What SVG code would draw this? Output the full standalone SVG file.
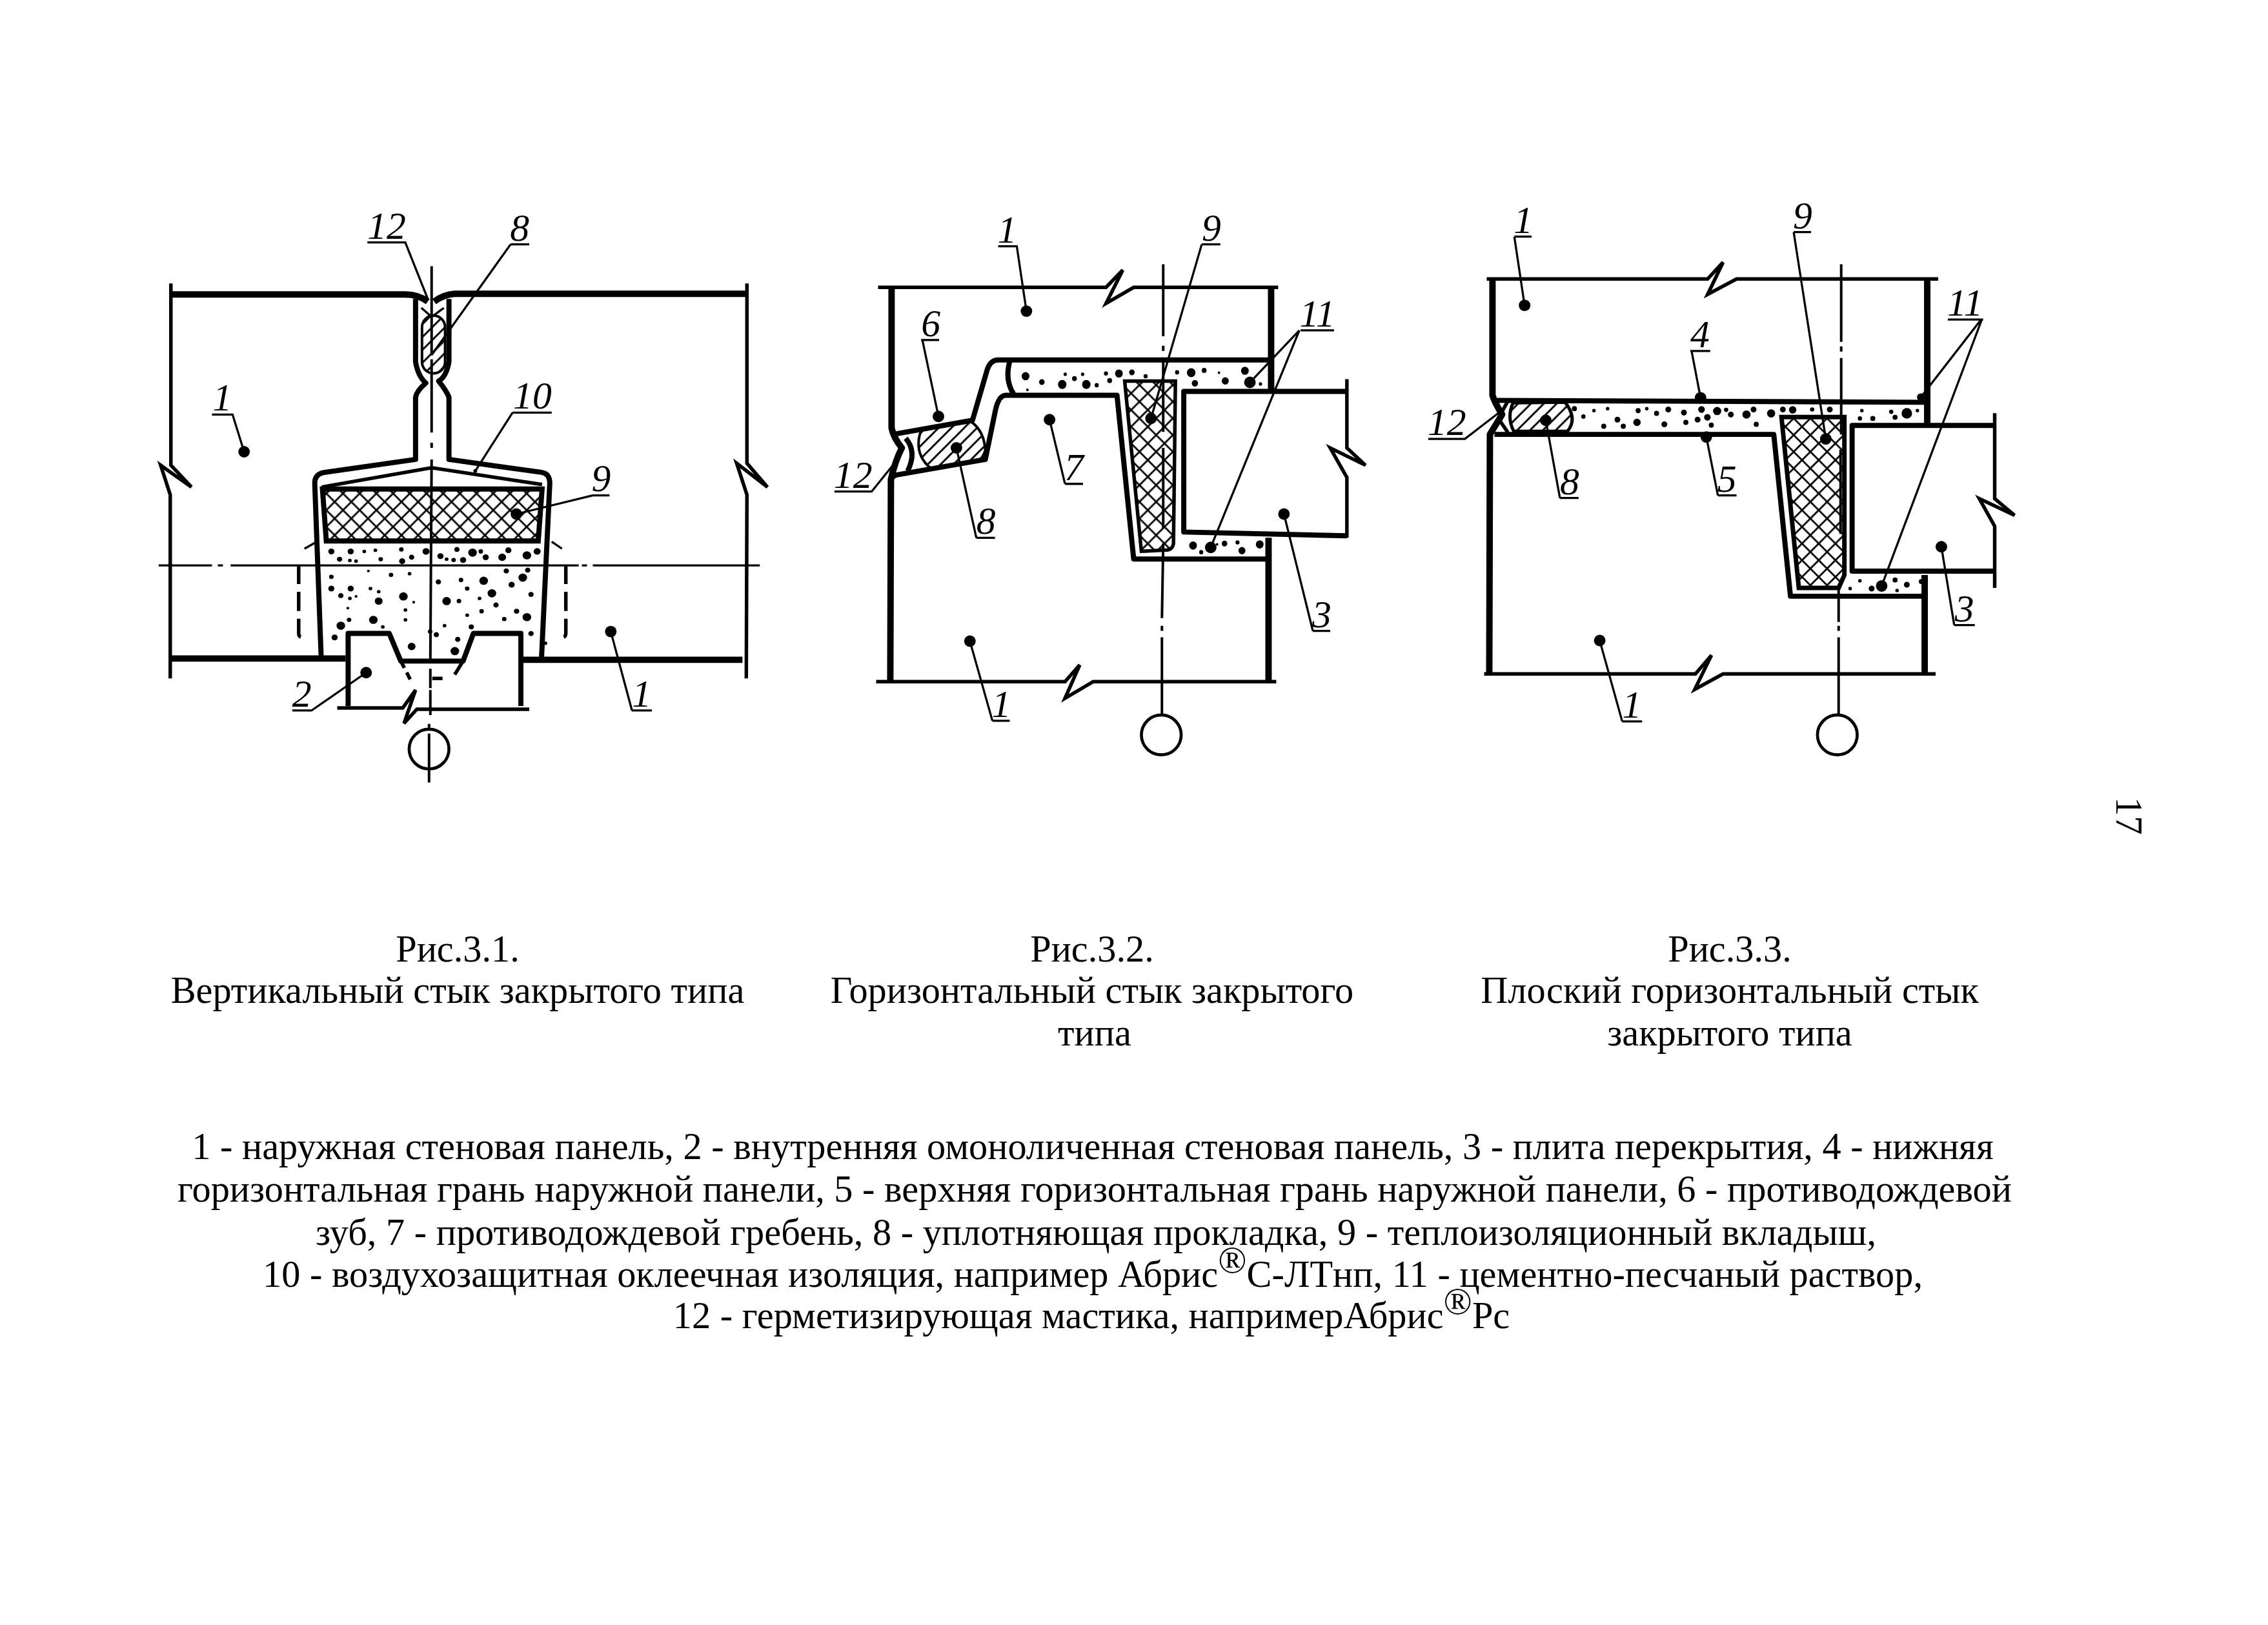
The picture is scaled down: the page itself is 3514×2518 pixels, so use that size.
<svg xmlns="http://www.w3.org/2000/svg" width="3514" height="2518" viewBox="0 0 3514 2518">
<style>
.w{fill:none;stroke:#000;stroke-width:10;stroke-linejoin:round}
.h{fill:none;stroke:#000;stroke-width:8;stroke-linejoin:round}
.m{fill:none;stroke:#000;stroke-width:5.5;stroke-linejoin:miter}
.a{fill:none;stroke:#000;stroke-width:4}
.t{fill:none;stroke:#000;stroke-width:3.3}
.d{fill:#000;stroke:none}
.dots{fill:#000;stroke:#000;stroke-width:3}
.lb{font-family:"Liberation Serif","Times New Roman",serif;font-style:italic;font-size:60px;text-anchor:middle;fill:#000}
.c{font-family:"Liberation Serif","Times New Roman",serif;font-size:58.33px;text-anchor:middle;fill:#000}
</style>
<defs>
<pattern id="cross" width="26" height="26" patternUnits="userSpaceOnUse"><path d="M0 0L26 26M26 0L0 26" stroke="#000" stroke-width="2.8" fill="none"/></pattern>
<pattern id="hatch" width="20" height="20" patternUnits="userSpaceOnUse"><path d="M-3 23L23 -3M-3 3L3 -3M17 23L23 17" stroke="#000" stroke-width="3" fill="none"/></pattern>
</defs>
<rect width="3514" height="2518" fill="#fff"/>

<g id="fig1" transform="matrix(.995 0 0 .995 1.1 1.5)">
<path class="m" d="M265 440V723L297 757L249 723L264 769V1055"/>
<path class="m" d="M1162 440V720L1194 757L1146 720L1162 769L1161 1055"/>
<path class="w" d="M266 457H630Q650 457 665 468"/>
<path class="w" d="M675 468Q690 457 707 456H1162"/>
<path class="h" d="M646 464V562Q650 585 662 595Q648 607 646 617V714L505 734Q489 736 489 751L499 1022"/>
<path class="h" d="M698 464V562Q694 585 682 592Q694 607 698 617V714L842 734Q855 736 855 751L842 1026"/>
<path class="w" d="M265 1024H537M813 1026H1155"/>
<path class="t" d="M655 478L671 492L690 478"/>
<rect x="656" y="490" width="36" height="90" rx="18" fill="url(#hatch)" stroke="#000" stroke-width="4"/>
<path class="m" d="M500 757L671 727L843 753"/>
<path d="M501 760H843L837 841H507Z" fill="url(#cross)" stroke="#000" stroke-width="8"/>
<path class="t" d="M473 853L489 844M874 853L858 842"/>
<path class="m" stroke-dasharray="30 12" d="M464 878V985Q464 991 470 991M880 878V985Q880 991 874 991"/>
<path class="t" d="M246 879H329M338 879H346M358 879H900M905 879H913M922 879H1182"/>
<path class="a" d="M671 413V552M671 558V672M671 688V696M671 714L669 1027M669 1040V1070M669 1073V1112M667 1126V1132M667 1141V1217"/>
<path class="h" d="M541 1098V985H605L623 1028H720L736 985H810V1098"/>
<path class="m" d="M524 1101H626L646 1073L628 1125L648 1103H823"/>
<path class="m" stroke-dasharray="12 8" d="M623 1028L640 1061"/>
<path class="m" d="M720 1028L707 1049M672 1055H688"/>
<circle cx="667" cy="1165" r="31" fill="none" stroke="#000" stroke-width="4.7"/>
<g transform="translate(220 300) scale(.641 .609)" class="dots">
<circle cx="460" cy="915" r="6"/><circle cx="507" cy="915" r="6"/><circle cx="480" cy="935" r="5"/><circle cx="505" cy="938" r="3"/><circle cx="520" cy="940" r="3"/><circle cx="540" cy="915" r="3"/><circle cx="567" cy="912" r="3"/><circle cx="580" cy="935" r="4"/><circle cx="630" cy="910" r="4"/><circle cx="632" cy="940" r="6"/><circle cx="655" cy="930" r="5"/><circle cx="690" cy="915" r="7"/><circle cx="725" cy="927" r="6"/><circle cx="740" cy="935" r="3"/><circle cx="757" cy="937" r="4"/><circle cx="765" cy="910" r="5"/><circle cx="780" cy="937" r="6"/><circle cx="803" cy="918" r="9"/><circle cx="823" cy="915" r="4"/><circle cx="835" cy="930" r="6"/><circle cx="875" cy="930" r="8"/><circle cx="890" cy="912" r="6"/><circle cx="935" cy="925" r="9"/><circle cx="960" cy="915" r="7"/><circle cx="550" cy="965" r="2"/><circle cx="605" cy="975" r="4"/><circle cx="650" cy="972" r="3"/><circle cx="885" cy="965" r="5"/><circle cx="937" cy="963" r="5"/><circle cx="925" cy="982" r="9"/><circle cx="830" cy="990" r="9"/><circle cx="775" cy="988" r="4"/><circle cx="720" cy="993" r="5"/><circle cx="898" cy="1000" r="6"/><circle cx="460" cy="980" r="4"/><circle cx="460" cy="1010" r="6"/><circle cx="507" cy="1010" r="6"/><circle cx="555" cy="1010" r="3"/><circle cx="635" cy="1030" r="9"/><circle cx="575" cy="1042" r="8"/><circle cx="575" cy="1018" r="3"/><circle cx="483" cy="1028" r="5"/><circle cx="505" cy="1035" r="3"/><circle cx="520" cy="1030" r="2"/><circle cx="850" cy="1022" r="9"/><circle cx="790" cy="1010" r="4"/><circle cx="740" cy="1042" r="9"/><circle cx="770" cy="1042" r="4"/><circle cx="820" cy="1035" r="3"/><circle cx="945" cy="1025" r="5"/><circle cx="860" cy="1052" r="5"/><circle cx="500" cy="1060" r="2"/><circle cx="640" cy="1065" r="3"/><circle cx="660" cy="1045" r="2"/><circle cx="910" cy="1068" r="5"/><circle cx="825" cy="1068" r="4"/><circle cx="935" cy="1083" r="9"/><circle cx="880" cy="1088" r="4"/><circle cx="790" cy="1078" r="3"/><circle cx="503" cy="1090" r="4"/><circle cx="483" cy="1105" r="9"/><circle cx="562" cy="1090" r="9"/><circle cx="640" cy="1090" r="3"/><circle cx="585" cy="1108" r="3"/><circle cx="735" cy="1105" r="3"/><circle cx="800" cy="1108" r="5"/><circle cx="700" cy="1120" r="4"/><circle cx="715" cy="1128" r="5"/><circle cx="655" cy="1158" r="8"/><circle cx="767" cy="1140" r="5"/><circle cx="760" cy="1170" r="9"/><circle cx="468" cy="1135" r="6"/><circle cx="945" cy="1125" r="5"/><circle cx="980" cy="1150" r="3"/>
</g>
</g>

<g id="fig2" transform="matrix(.995 0 0 .995 6.3 1.5)">
<path class="m" d="M1361 446H1716L1742 419L1716 471L1759 446H1984"/>
<path class="w" d="M1382 446V665Q1385 680 1398 696Q1388 715 1381 745L1380 1061"/>
<path class="h" d="M1384 675L1508 653L1531 574Q1536 559 1548 559H1970"/>
<path class="h" d="M1381 745Q1383 740 1390 738L1528 714L1543 641Q1548 614 1560 614H1733L1759 869H1970"/>
<path class="w" d="M1973 446V608M1969 836V1061"/>
<path class="m" d="M1358 1060H1652L1675 1034L1652 1086L1696 1060H1981"/>
<path class="h" d="M2091 608H1837V827L2091 833"/>
<path class="m" d="M2091 589V696L2120 723L2065 696L2091 742V836"/>
<path d="M1745 592H1824L1821 845Q1820 854 1811 855L1771 857Z" fill="url(#cross)" stroke="#000" stroke-width="5.5"/>
<path d="M1430 667L1504 654Q1526 668 1528 700Q1524 712 1517 716L1443 728Q1424 712 1424 690Q1424 675 1430 667Z" fill="url(#hatch)" stroke="#000" stroke-width="4"/>
<path class="h" d="M1404 681Q1422 702 1407 732"/>
<path class="h" d="M1566 561Q1558 590 1572 612"/>
<path class="a" d="M1805 410V522M1805 537V545M1805 556V671M1805 696V821M1805 845L1803 961M1803 973V981M1803 991V1110"/>
<circle cx="1802" cy="1143" r="31" fill="none" stroke="#000" stroke-width="4.7"/>
<g transform="translate(1260 300) scale(.577 .609)" class="dots">
<circle cx="573" cy="467" r="9"/><circle cx="617" cy="482" r="6"/><circle cx="672" cy="488" r="10"/><circle cx="705" cy="473" r="5"/><circle cx="737" cy="488" r="10"/><circle cx="680" cy="462" r="3"/><circle cx="727" cy="462" r="3"/><circle cx="765" cy="490" r="4"/><circle cx="800" cy="478" r="5"/><circle cx="790" cy="460" r="4"/><circle cx="825" cy="460" r="9"/><circle cx="860" cy="457" r="6"/><circle cx="897" cy="467" r="4"/><circle cx="982" cy="457" r="4"/><circle cx="1020" cy="458" r="10"/><circle cx="1055" cy="452" r="5"/><circle cx="1030" cy="485" r="7"/><circle cx="1112" cy="479" r="8"/><circle cx="1165" cy="453" r="9"/><circle cx="1207" cy="487" r="3"/><circle cx="1095" cy="458" r="2"/><circle cx="1025" cy="900" r="9"/><circle cx="1047" cy="917" r="4"/><circle cx="1110" cy="895" r="6"/><circle cx="1145" cy="892" r="4"/><circle cx="1157" cy="913" r="8"/><circle cx="1205" cy="897" r="9"/><circle cx="1090" cy="897" r="2"/><circle cx="578" cy="502" r="2"/>
</g>
</g>

<g id="fig3" transform="matrix(.995 0 0 .995 11 1.5)">
<path class="m" d="M2304 433H2648L2672 407L2648 457L2693 433H3007"/>
<path class="w" d="M2313 435V614Q2316 625 2328 644Q2318 660 2309 675L2308 1048"/>
<path class="h" d="M2316 622L2989 625"/>
<path class="h" d="M2316 675H2751L2777 927H2983"/>
<path class="w" d="M2990 435V659M2986 894V1048"/>
<path class="m" d="M2300 1048H2629L2654 1019L2628 1072L2672 1048H3003"/>
<path class="h" d="M3095 661H2873V888H3095"/>
<path class="m" d="M3095 642V775L3126 801L3071 775L3095 818V914"/>
<path d="M2763 648H2861V894L2852 914H2790Z" fill="url(#cross)" stroke="#000" stroke-width="7"/>
<path d="M2345 626Q2335 648 2346 670H2430Q2446 650 2426 625Z" fill="url(#hatch)" stroke="#000" stroke-width="5"/>
<path class="m" d="M2337 623L2322 650L2337 672"/>
<path class="a" d="M2856 410V531M2856 538V546M2856 556V675M2855 699V830M2852 915V967M2852 973V981M2852 991V1110"/>
<circle cx="2850" cy="1143" r="31" fill="none" stroke="#000" stroke-width="4.7"/>
<g transform="translate(2200 300) scale(.609)" class="dots">
<circle cx="395" cy="550" r="5"/><circle cx="418" cy="570" r="4"/><circle cx="445" cy="555" r="3"/><circle cx="470" cy="595" r="5"/><circle cx="480" cy="550" r="3"/><circle cx="505" cy="578" r="6"/><circle cx="520" cy="595" r="5"/><circle cx="555" cy="585" r="8"/><circle cx="558" cy="555" r="5"/><circle cx="580" cy="550" r="3"/><circle cx="605" cy="562" r="5"/><circle cx="635" cy="552" r="6"/><circle cx="625" cy="590" r="6"/><circle cx="675" cy="560" r="6"/><circle cx="680" cy="585" r="5"/><circle cx="710" cy="578" r="6"/><circle cx="720" cy="552" r="7"/><circle cx="735" cy="572" r="7"/><circle cx="745" cy="592" r="5"/><circle cx="760" cy="556" r="9"/><circle cx="783" cy="553" r="4"/><circle cx="795" cy="565" r="6"/><circle cx="835" cy="565" r="9"/><circle cx="853" cy="552" r="6"/><circle cx="860" cy="590" r="5"/><circle cx="898" cy="562" r="9"/><circle cx="928" cy="552" r="6"/><circle cx="953" cy="553" r="8"/><circle cx="1003" cy="552" r="4"/><circle cx="1048" cy="552" r="6"/><circle cx="1130" cy="555" r="3"/><circle cx="1125" cy="575" r="4"/><circle cx="1158" cy="575" r="5"/><circle cx="1205" cy="558" r="4"/><circle cx="1215" cy="572" r="5"/><circle cx="1245" cy="562" r="12"/><circle cx="1272" cy="555" r="3"/><circle cx="1100" cy="1010" r="3"/><circle cx="1125" cy="990" r="3"/><circle cx="1155" cy="1010" r="6"/><circle cx="1215" cy="988" r="5"/><circle cx="1245" cy="1000" r="6"/><circle cx="1282" cy="992" r="5"/><circle cx="1220" cy="1015" r="3"/>
</g>
</g>

<g id="connectors" class="t">
<path transform="matrix(.995 0 0 .995 1.1 1.5)" d="M571 376H630L665 464M794 379H823M794 379L672 550M329 644H361L379 702M797 641H858M797 641L739 732M922 770H948M922 770L803 799M454 1105H484L569 1046M983 1105H1014M983 1105L950 982"/>
<path transform="matrix(.995 0 0 .995 6.3 1.5)" d="M1548 382H1577L1592 483M1428 528H1456M1430 528L1455 647M1293 764H1351L1396 708M1514 836H1543M1514 836L1483 696M1652 752H1680M1652 752L1628 652M1865 379H1894M1865 379L1786 650M2019 513H2071M2017 513L1940 594M2017 513L1879 851M2038 981H2065M2038 981L1993 799M1539 1121H1566M1539 1121L1504 997"/>
<path transform="matrix(.995 0 0 .995 11 1.5)" d="M2347 367H2374M2347 367L2363 474M2782 360H2809M2782 360L2832 682M2621 545H2652M2623 545L2637 618M2213 682H2270L2322 642M2418 774H2447M2418 774L2396 653M2664 770H2693M2664 770L2646 679M3022 496H3077M3074 496L2980 617M3075 496L2919 911M3032 972H3064M3032 972L3012 850M2515 1122H2546M2515 1122L2480 996"/>
</g>

<g id="labels-fig1" transform="matrix(.995 0 0 .995 1.1 1.5)">
<g id="f1-12"><text class="lb" x="601" y="370">12</text></g>
<g id="f1-8"><text class="lb" x="808" y="373">8</text></g>
<g id="f1-1a"><circle class="d" cx="379" cy="702" r="9"/><text class="lb" x="345" y="638">1</text></g>
<g id="f1-10"><circle class="d" cx="739" cy="732" r="3"/><text class="lb" x="828" y="635">10</text></g>
<g id="f1-9"><circle class="d" cx="803" cy="799" r="9"/><text class="lb" x="935" y="763">9</text></g>
<g id="f1-2"><circle class="d" cx="569" cy="1046" r="9"/><text class="lb" x="469" y="1099">2</text></g>
<g id="f1-1b"><circle class="d" cx="950" cy="982" r="9"/><text class="lb" x="998" y="1099">1</text></g>
</g>
<g id="labels-fig2" transform="matrix(.995 0 0 .995 6.3 1.5)">
<g id="f2-1a"><circle class="d" cx="1592" cy="483" r="9"/><text class="lb" x="1562" y="376">1</text></g>
<g id="f2-6"><circle class="d" cx="1455" cy="647" r="9"/><text class="lb" x="1443" y="522">6</text></g>
<g id="f2-12"><text class="lb" x="1322" y="758">12</text></g>
<g id="f2-8"><circle class="d" cx="1483" cy="696" r="9"/><text class="lb" x="1529" y="830">8</text></g>
<g id="f2-7"><circle class="d" cx="1628" cy="652" r="9"/><text class="lb" x="1666" y="746">7</text></g>
<g id="f2-9"><circle class="d" cx="1786" cy="650" r="9"/><text class="lb" x="1880" y="373">9</text></g>
<g id="f2-11"><circle class="d" cx="1940" cy="594" r="9"/><circle class="d" cx="1879" cy="851" r="9"/><text class="lb" x="2045" y="507">11</text></g>
<g id="f2-3"><circle class="d" cx="1993" cy="799" r="9"/><text class="lb" x="2052" y="975">3</text></g>
<g id="f2-1b"><circle class="d" cx="1504" cy="997" r="9"/><text class="lb" x="1553" y="1115">1</text></g>
</g>
<g id="labels-fig3" transform="matrix(.995 0 0 .995 11 1.5)">
<g id="f3-1a"><circle class="d" cx="2363" cy="474" r="9"/><text class="lb" x="2361" y="361">1</text></g>
<g id="f3-9"><circle class="d" cx="2832" cy="682" r="9"/><text class="lb" x="2796" y="354">9</text></g>
<g id="f3-4"><circle class="d" cx="2637" cy="618" r="9"/><text class="lb" x="2636" y="539">4</text></g>
<g id="f3-12"><text class="lb" x="2242" y="676">12</text></g>
<g id="f3-8"><circle class="d" cx="2396" cy="653" r="9"/><text class="lb" x="2433" y="768">8</text></g>
<g id="f3-5"><circle class="d" cx="2646" cy="679" r="9"/><text class="lb" x="2678" y="764">5</text></g>
<g id="f3-11"><circle class="d" cx="2980" cy="617" r="6"/><circle class="d" cx="2919" cy="911" r="9"/><text class="lb" x="3049" y="490">11</text></g>
<g id="f3-3"><circle class="d" cx="3012" cy="850" r="9"/><text class="lb" x="3048" y="966">3</text></g>
<g id="f3-1b"><circle class="d" cx="2480" cy="996" r="9"/><text class="lb" x="2530" y="1116">1</text></g>
</g>

<g id="captions">
<text class="c" x="709" y="1490">Рис.3.1.</text>
<text class="c" x="709" y="1554">Вертикальный стык закрытого типа</text>
<text class="c" x="1692" y="1490">Рис.3.2.</text>
<text class="c" x="1692" y="1554">Горизонтальный стык закрытого</text>
<text class="c" x="1696" y="1620">типа</text>
<text class="c" x="2680" y="1490">Рис.3.3.</text>
<text class="c" x="2680" y="1554">Плоский горизонтальный стык</text>
<text class="c" x="2680" y="1620">закрытого типа</text>
</g>
<g id="legend">
<text class="c" x="1693" y="1796">1 - наружная стеновая панель, 2 - внутренняя омоноличенная стеновая панель, 3 - плита перекрытия, 4 - нижняя</text>
<text class="c" x="1696" y="1862">горизонтальная грань наружной панели, 5 - верхняя горизонтальная грань наружной панели, 6 - противодождевой</text>
<text class="c" x="1698" y="1929">зуб, 7 - противодождевой гребень, 8 - уплотняющая прокладка, 9 - теплоизоляционный вкладыш,</text>
<text class="c" x="1693" y="1994">10 - воздухозащитная оклеечная изоляция, например Абрис<tspan dy="-22">®</tspan><tspan dy="22">С-ЛТнп, 11 - цементно-песчаный раствор,</tspan></text>
<text class="c" x="1691" y="2058">12 - герметизирующая мастика, напримерАбрис<tspan dy="-22">®</tspan><tspan dy="22">Рс</tspan></text>
</g>
<text id="page" class="c" style="text-anchor:start" transform="translate(3279 1235) rotate(90)">17</text>
</svg>
